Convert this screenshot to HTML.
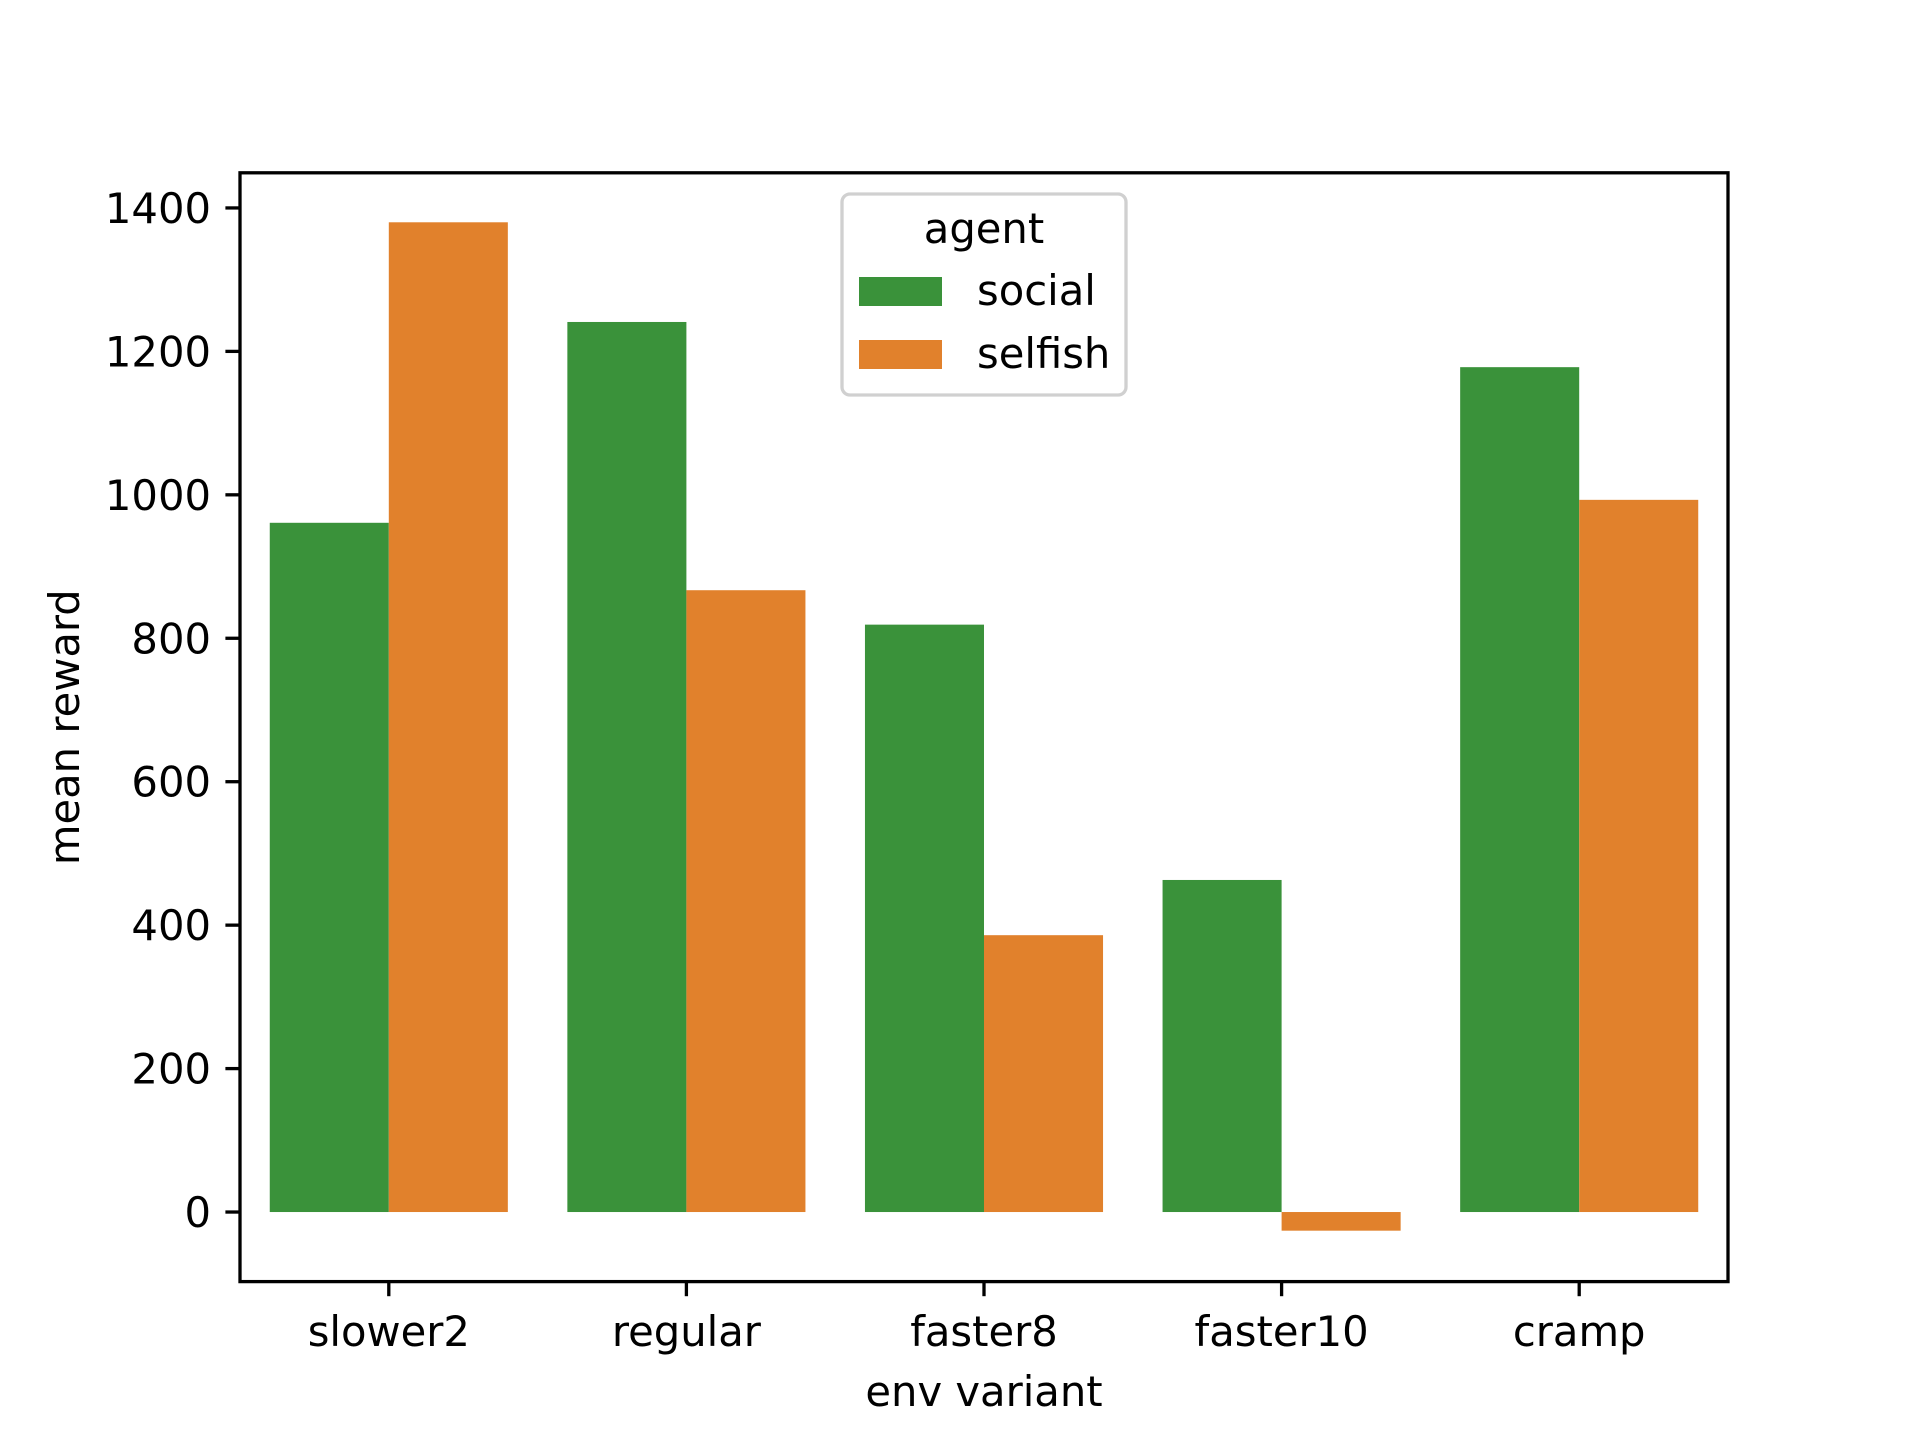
<!DOCTYPE html>
<html><head><meta charset="utf-8"><style>
html,body{margin:0;padding:0;background:#fff}
svg{display:block;font-family:"DejaVu Sans","Liberation Sans",sans-serif}
</style></head><body>
<svg id="chart" width="1920" height="1440" viewBox="0 0 1920 1440">
<rect width="1920" height="1440" fill="#fff"/>
<g id="bars"></g>
<g id="axes"></g>
</svg>
<script>
const categories = ["slower2","regular","faster8","faster10","cramp"];
const socialValues = [961, 1241, 819, 463, 1178];
const selfishValues = [1380, 867, 386, -26, 993];
const yTicks = [0,200,400,600,800,1000,1200,1400];
const seriesNames = ["social","selfish"];

const L=240,R=1728,T=172.8,B=1281.6, yMin=-97, yMax=1449;
const ns="http://www.w3.org/2000/svg";
function y(v){return B-(v-yMin)/(yMax-yMin)*(B-T);}
function xc(i){return L+(i+0.5)*(R-L)/categories.length;}
const band=(R-L)/categories.length, bw=band*0.4;
function mk(tag,attrs,parent,text){const e=document.createElementNS(ns,tag);for(const k in attrs)e.setAttribute(k,attrs[k]);if(text!==undefined)e.textContent=text;parent.appendChild(e);return e;}
const bars=document.getElementById('bars'), axes=document.getElementById('axes');
const colors=["#3a923a","#e1812c"];
[socialValues,selfishValues].forEach((vals,s)=>{
  vals.forEach((v,i)=>{
    const x=xc(i)-bw+s*bw;
    const r=mk('rect',{x:x,y:Math.min(y(v),y(0)),width:bw,height:Math.abs(y(v)-y(0)),fill:colors[s]},bars);
    
    
  });
});
yTicks.forEach(t=>{
  const yy=y(t);
  const l=mk('line',{x1:L-14.6,x2:L,y1:yy,y2:yy,stroke:'#000','stroke-width':3.3},axes);
  
  
  const tx=mk('text',{x:L-29,y:yy+15,'text-anchor':'end','font-size':41.7,fill:'#000'},axes,String(t));
  
  
});
categories.forEach((c,i)=>{
  const xx=xc(i);
  const l=mk('line',{x1:xx,x2:xx,y1:B,y2:B+14.6,stroke:'#000','stroke-width':3.3},axes);
  
  
  const tx=mk('text',{x:xx,y:1346,'text-anchor':'middle','font-size':41.7,fill:'#000'},axes,c);
  
  
});
const fr=mk('rect',{x:L,y:T,width:R-L,height:B-T,fill:'none',stroke:'#000','stroke-width':3.3},axes);


const xl=mk('text',{x:(L+R)/2,y:1406,'text-anchor':'middle','font-size':41.7,fill:'#000'},axes,'env variant');


const yl=mk('text',{x:0,y:0,transform:'translate(79,'+((T+B)/2)+') rotate(-90)','text-anchor':'middle','font-size':41.7,fill:'#000'},axes,'mean reward');


const lg=mk('g',{},axes);


mk('rect',{x:842,y:194,width:284,height:201,rx:8,fill:'#fff','fill-opacity':0.8,stroke:'#d0d0d0','stroke-width':3.3},lg);
const lt=mk('text',{x:984,y:243,'text-anchor':'middle','font-size':41.7,fill:'#000'},lg,'agent');


seriesNames.forEach((n,s)=>{
  const yy=277+s*63;
  const p=mk('rect',{x:859,y:yy,width:83,height:29,fill:colors[s]},lg);
  
  
  const t=mk('text',{x:977,y:yy+28,'font-size':41.7,fill:'#000'},lg,n);
  
  
});
</script>
</body></html>
